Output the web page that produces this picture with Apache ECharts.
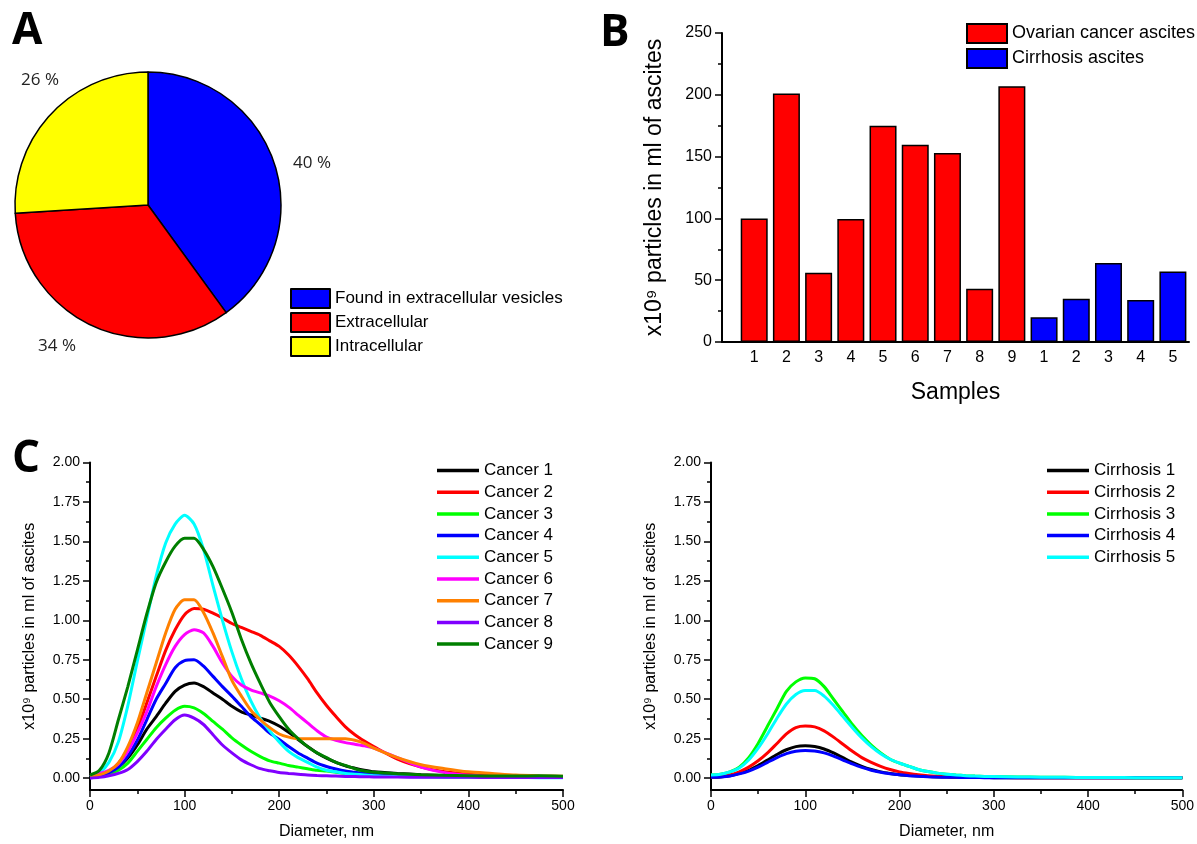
<!DOCTYPE html>
<html>
<head>
<meta charset="utf-8">
<title>Ascites particles</title>
<script src="https://cdn.jsdelivr.net/npm/echarts@6.0.0/dist/echarts.min.js"></script>
<style>
  html, body { margin: 0; padding: 0; background: #fff; }
  #chart { width: 1197px; height: 844px; }
</style>
</head>
<body>
<div id="chart"></div>
<script>
// panel A
const pieNames = ["Found in extracellular vesicles", "Extracellular", "Intracellular"];
const pieValues = [40, 34, 26];
const pieColors = ["#0000FF", "#FF0000", "#FFFF00"];

// panel B
const sampleLabels = ["1", "2", "3", "4", "5", "6", "7", "8", "9", "1", "2", "3", "4", "5"];
const ovarianValues = [100, 201, 56, 99.5, 175, 159.5, 153, 43, 207];
const cirrhosisValues = [20, 35, 64, 34, 57];

// panel C, diameter grid (nm)
const diameters = [0, 10, 20, 30, 40, 50, 60, 70, 80, 90, 100, 110, 120, 130, 140, 150, 160, 170, 180, 190, 200,
  210, 220, 230, 240, 250, 260, 270, 280, 290, 300, 325, 350, 375, 400, 425, 450, 475, 500];

const cancer1 = [0.005, 0.015, 0.035, 0.07, 0.127, 0.21, 0.31, 0.39, 0.475, 0.55, 0.59, 0.603, 0.58, 0.54, 0.5, 0.455, 0.42, 0.4, 0.38, 0.36, 0.33,
  0.29, 0.245, 0.2, 0.16, 0.127, 0.1, 0.078, 0.063, 0.05, 0.04, 0.03, 0.022, 0.016, 0.012, 0.01, 0.008, 0.008, 0.006];
const cancer2 = [0.01, 0.02, 0.042, 0.095, 0.18, 0.307, 0.476, 0.645, 0.81, 0.94, 1.036, 1.075, 1.07, 1.045, 1.015, 0.98, 0.955, 0.93, 0.905, 0.87, 0.835,
  0.78, 0.71, 0.63, 0.54, 0.46, 0.39, 0.325, 0.275, 0.235, 0.2, 0.12, 0.07, 0.04, 0.025, 0.015, 0.012, 0.01, 0.008];
const cancer3 = [0.005, 0.01, 0.025, 0.05, 0.095, 0.17, 0.245, 0.32, 0.38, 0.43, 0.455, 0.445, 0.41, 0.36, 0.31, 0.255, 0.21, 0.17, 0.137, 0.11, 0.095,
  0.08, 0.07, 0.06, 0.05, 0.045, 0.037, 0.03, 0.025, 0.02, 0.017, 0.012, 0.01, 0.008, 0.007, 0.006, 0.005, 0.005, 0.004];
const cancer4 = [0.005, 0.015, 0.035, 0.07, 0.14, 0.24, 0.37, 0.5, 0.6, 0.7, 0.745, 0.75, 0.71, 0.645, 0.58, 0.52, 0.455, 0.39, 0.34, 0.285, 0.245,
  0.2, 0.16, 0.127, 0.095, 0.074, 0.058, 0.045, 0.037, 0.03, 0.025, 0.02, 0.015, 0.012, 0.01, 0.008, 0.007, 0.006, 0.005];
const cancer5 = [0.01, 0.034, 0.1, 0.23, 0.46, 0.74, 1.01, 1.28, 1.49, 1.61, 1.665, 1.61, 1.45, 1.22, 1.0, 0.8, 0.63, 0.49, 0.38, 0.3, 0.23,
  0.17, 0.13, 0.1, 0.07, 0.05, 0.04, 0.03, 0.025, 0.02, 0.015, 0.01, 0.008, 0.006, 0.005, 0.004, 0.004, 0.003, 0.003];
const cancer6 = [0.02, 0.03, 0.05, 0.09, 0.17, 0.285, 0.42, 0.58, 0.72, 0.835, 0.91, 0.94, 0.92, 0.835, 0.73, 0.645, 0.59, 0.56, 0.54, 0.52, 0.49,
  0.45, 0.4, 0.35, 0.3, 0.26, 0.24, 0.225, 0.215, 0.205, 0.19, 0.13, 0.07, 0.035, 0.018, 0.01, 0.008, 0.006, 0.005];
const cancer7 = [0.01, 0.02, 0.045, 0.095, 0.2, 0.35, 0.54, 0.73, 0.92, 1.07, 1.13, 1.13, 1.05, 0.92, 0.77, 0.62, 0.52, 0.43, 0.37, 0.32, 0.28,
  0.26, 0.25, 0.25, 0.25, 0.25, 0.25, 0.25, 0.24, 0.22, 0.19, 0.13, 0.085, 0.06, 0.04, 0.03, 0.02, 0.015, 0.012];
const cancer8 = [0.0, 0.005, 0.015, 0.03, 0.055, 0.105, 0.17, 0.245, 0.31, 0.37, 0.4, 0.38, 0.34, 0.275, 0.21, 0.16, 0.116, 0.085, 0.06, 0.047, 0.036,
  0.03, 0.025, 0.02, 0.017, 0.015, 0.013, 0.011, 0.01, 0.009, 0.008, 0.007, 0.006, 0.005, 0.005, 0.004, 0.004, 0.004, 0.004];
const cancer9 = [0.02, 0.05, 0.16, 0.37, 0.58, 0.81, 1.04, 1.24, 1.37, 1.47, 1.52, 1.52, 1.45, 1.34, 1.2, 1.05, 0.88, 0.73, 0.6, 0.48, 0.39,
  0.31, 0.25, 0.2, 0.16, 0.13, 0.1, 0.08, 0.06, 0.045, 0.037, 0.028, 0.022, 0.018, 0.015, 0.013, 0.013, 0.015, 0.012];

const cirrhosis1 = [0.005, 0.008, 0.015, 0.03, 0.05, 0.08, 0.115, 0.15, 0.18, 0.2, 0.205, 0.2, 0.185, 0.16, 0.13, 0.1, 0.075, 0.055, 0.04, 0.03, 0.022,
  0.017, 0.013, 0.01, 0.008, 0.007, 0.006, 0.005, 0.004, 0.004, 0.003, 0.003, 0.002, 0.002, 0.002, 0.002, 0.002, 0.002, 0.002];
const cirrhosis2 = [0.005, 0.01, 0.02, 0.04, 0.07, 0.11, 0.16, 0.22, 0.28, 0.32, 0.33, 0.325, 0.3, 0.26, 0.215, 0.17, 0.13, 0.1, 0.075, 0.055, 0.04,
  0.03, 0.022, 0.016, 0.012, 0.009, 0.007, 0.006, 0.005, 0.004, 0.004, 0.003, 0.003, 0.002, 0.002, 0.002, 0.002, 0.002, 0.002];
const cirrhosis3 = [0.02, 0.025, 0.04, 0.07, 0.13, 0.22, 0.33, 0.44, 0.55, 0.61, 0.635, 0.63, 0.58, 0.5, 0.42, 0.34, 0.27, 0.21, 0.16, 0.12, 0.095,
  0.075, 0.055, 0.042, 0.032, 0.025, 0.02, 0.016, 0.013, 0.011, 0.01, 0.008, 0.006, 0.005, 0.004, 0.004, 0.003, 0.003, 0.003];
const cirrhosis4 = [0.005, 0.008, 0.014, 0.027, 0.045, 0.07, 0.1, 0.13, 0.155, 0.17, 0.175, 0.172, 0.16, 0.14, 0.115, 0.09, 0.068, 0.05, 0.037, 0.028, 0.021,
  0.016, 0.012, 0.009, 0.007, 0.006, 0.005, 0.004, 0.004, 0.003, 0.003, 0.003, 0.002, 0.002, 0.002, 0.002, 0.002, 0.002, 0.002];
const cirrhosis5 = [0.02, 0.025, 0.04, 0.065, 0.115, 0.19, 0.28, 0.38, 0.47, 0.53, 0.555, 0.555, 0.52, 0.46, 0.39, 0.32, 0.255, 0.2, 0.155, 0.12, 0.095,
  0.075, 0.055, 0.042, 0.032, 0.025, 0.02, 0.016, 0.013, 0.011, 0.01, 0.008, 0.006, 0.005, 0.004, 0.004, 0.003, 0.003, 0.003];

const cancerNames = ["Cancer 1", "Cancer 2", "Cancer 3", "Cancer 4", "Cancer 5", "Cancer 6", "Cancer 7", "Cancer 8", "Cancer 9"];
const cancerSeries = [cancer1, cancer2, cancer3, cancer4, cancer5, cancer6, cancer7, cancer8, cancer9];
const cancerColors = ["#000000", "#FF0000", "#00FF00", "#0000FF", "#00FFFF", "#FF00FF", "#FF8000", "#8000FF", "#007F00"];
const cirrhosisNames = ["Cirrhosis 1", "Cirrhosis 2", "Cirrhosis 3", "Cirrhosis 4", "Cirrhosis 5"];
const cirrhosisSeries = [cirrhosis1, cirrhosis2, cirrhosis3, cirrhosis4, cirrhosis5];
const cirrhosisColors = ["#000000", "#FF0000", "#00FF00", "#0000FF", "#00FFFF"];

const yTicks = [0, 0.25, 0.5, 0.75, 1, 1.25, 1.5, 1.75, 2];
const yMinorTicks = [0.125, 0.375, 0.625, 0.875, 1.125, 1.375, 1.625, 1.875];

// where the percentage labels sit around the pie (px)
const pieLabelSpots = [[312, 163], [57, 346], [40, 80]];

const FONT = "'Liberation Sans', Arial, sans-serif";
const axisStyle = { color: "#000", width: 2 };

const chart = echarts.init(document.getElementById("chart"));

// one pair of y axes (major + minor ticks) for a size-distribution panel
const sizeYAxes = gridIndex => [
  {
    type: "value", gridIndex, position: "left", min: -0.075, max: 2,
    axisLine: { show: true, lineStyle: axisStyle },
    axisTick: { show: true, length: 7, customValues: yTicks, lineStyle: { color: "#000", width: 1.5 } },
    axisLabel: { customValues: yTicks, margin: 10, fontSize: 14, color: "#000", fontFamily: FONT,
      formatter: v => v.toFixed(2) },
    splitLine: { show: false },
    name: "x10⁹ particles in ml of ascites",
    nameLocation: "middle", nameGap: 52,
    nameTextStyle: { fontSize: 16, color: "#000", fontFamily: FONT }
  },
  {
    type: "value", gridIndex, position: "left", min: -0.075, max: 2,
    axisLine: { show: false },
    axisTick: { show: true, length: 4, customValues: yMinorTicks, lineStyle: { color: "#000", width: 1.5 } },
    axisLabel: { show: false },
    splitLine: { show: false }
  }
];

const sizeXAxis = gridIndex => ({
  type: "value", gridIndex, min: 0, max: 500, interval: 100,
  axisLine: { show: true, lineStyle: axisStyle, onZero: false },
  axisTick: { show: true, length: 7, lineStyle: { color: "#000", width: 1.5 } },
  minorTick: { show: true, splitNumber: 2, length: 4, lineStyle: { color: "#000", width: 1.5 } },
  axisLabel: { margin: 9, fontSize: 14, color: "#000", fontFamily: FONT },
  splitLine: { show: false },
  name: "Diameter, nm", nameLocation: "middle", nameGap: 34,
  nameTextStyle: { fontSize: 16, color: "#000", fontFamily: FONT }
});

const lineSeries = (names, arrays, colors, axisIndex) => names.map((name, k) => ({
  name, type: "line", xAxisIndex: axisIndex, yAxisIndex: axisIndex === 1 ? 1 : 3,
  data: diameters.map((d, i) => [d, arrays[k][i]]),
  showSymbol: false, symbol: "none", smooth: 0.25,
  lineStyle: { color: colors[k], width: 3 },
  itemStyle: { color: colors[k] },
  z: 2 + k
}));

// line legend: thin coloured bars instead of line+symbol icons
const lineLegend = (names, left) => ({
  data: names, orient: "vertical", left, top: 462, padding: 0,
  icon: "rect", itemWidth: 42, itemHeight: 3.5, itemGap: 4.7,
  textStyle: { fontSize: 17, color: "#000", fontFamily: FONT },
  selectedMode: false
});

const letterFont = "bold 44px 'Open Sans'";

const option = {
  animation: false,
  backgroundColor: "#fff",
  graphic: [
    { type: "text", left: 12, top: 9, style: { text: "A", font: letterFont, fill: "#000" } },
    { type: "text", left: 600, top: 11, style: { text: "B", font: letterFont, fill: "#000" } },
    { type: "text", left: 12, top: 437, style: { text: "C", font: letterFont, fill: "#000" } }
  ],
  legend: [
    {
      data: pieNames, orient: "vertical", left: 290, top: 288, padding: 0,
      itemWidth: 39, itemHeight: 19, itemGap: 3, icon: "rect",
      textStyle: { fontSize: 17, color: "#000", fontFamily: FONT },
      selectedMode: false
    },
    {
      data: ["Ovarian cancer ascites", "Cirrhosis ascites"], orient: "vertical", left: 966, top: 23, padding: 0,
      itemWidth: 40, itemHeight: 19, itemGap: 4, icon: "rect",
      textStyle: { fontSize: 18, color: "#000", fontFamily: FONT },
      selectedMode: false
    },
    lineLegend(cancerNames, 437),
    lineLegend(cirrhosisNames, 1047)
  ],
  grid: [
    { left: 722, right: 8, top: 33, height: 309 },
    { left: 90, width: 473, top: 462.5, height: 327.5 },
    { left: 711, width: 476, top: 462.5, height: 327.5 }
  ],
  xAxis: [
    {
      type: "value", gridIndex: 0, min: 0, max: 14.5,
      axisLine: { show: true, lineStyle: axisStyle },
      axisTick: { show: false },
      axisLabel: { customValues: sampleLabels.map((s, i) => i + 1), margin: 8, fontSize: 16, color: "#000",
        fontFamily: FONT, formatter: v => sampleLabels[Math.round(v) - 1] },
      splitLine: { show: false },
      name: "Samples", nameLocation: "middle", nameGap: 39,
      nameTextStyle: { fontSize: 23, color: "#000", fontFamily: FONT }
    },
    sizeXAxis(1),
    sizeXAxis(2)
  ],
  yAxis: [
    {
      type: "value", gridIndex: 0, min: 0, max: 250, interval: 50,
      axisLine: { show: true, lineStyle: axisStyle },
      axisTick: { show: true, length: 7, lineStyle: { color: "#000", width: 1.5 } },
      minorTick: { show: true, splitNumber: 2, length: 4, lineStyle: { color: "#000", width: 1.5 } },
      axisLabel: { margin: 10, fontSize: 16, color: "#000", fontFamily: FONT },
      splitLine: { show: false },
      name: "x10⁹ particles in ml of ascites", nameLocation: "middle", nameGap: 56,
      nameTextStyle: { fontSize: 23, color: "#000", fontFamily: FONT }
    },
    ...sizeYAxes(1),
    ...sizeYAxes(2)
  ],
  series: [
    {
      type: "pie", center: [148, 205], radius: 133, startAngle: 90, clockwise: true,
      data: pieNames.map((name, i) => ({ name, value: pieValues[i], itemStyle: { color: pieColors[i] } })),
      itemStyle: { borderColor: "#000", borderWidth: 1.5 },
      label: { show: true, position: "outside", formatter: "{c} %", fontSize: 17, color: "#222",
        fontFamily: "'Open Sans'", alignTo: "none", overflow: "none" },
      labelLine: { show: false },
      labelLayout: p => ({
        x: pieLabelSpots[p.dataIndex][0], y: pieLabelSpots[p.dataIndex][1],
        align: "center", verticalAlign: "middle"
      }),
      emphasis: { disabled: true }
    },
    {
      name: "Ovarian cancer ascites", type: "bar", xAxisIndex: 0, yAxisIndex: 0,
      data: ovarianValues.map((v, i) => [i + 1, v]),
      barWidth: 27, barGap: "-100%",
      itemStyle: { color: "#FF0000", borderColor: "#000", borderWidth: 1.5 }
    },
    {
      name: "Cirrhosis ascites", type: "bar", xAxisIndex: 0, yAxisIndex: 0,
      data: cirrhosisValues.map((v, i) => [ovarianValues.length + i + 1, v]),
      barWidth: 27, barGap: "-100%",
      itemStyle: { color: "#0000FF", borderColor: "#000", borderWidth: 1.5 }
    },
    ...lineSeries(cancerNames, cancerSeries, cancerColors, 1),
    ...lineSeries(cirrhosisNames, cirrhosisSeries, cirrhosisColors, 2)
  ]
};

chart.setOption(option);
</script>
</body>
</html>
